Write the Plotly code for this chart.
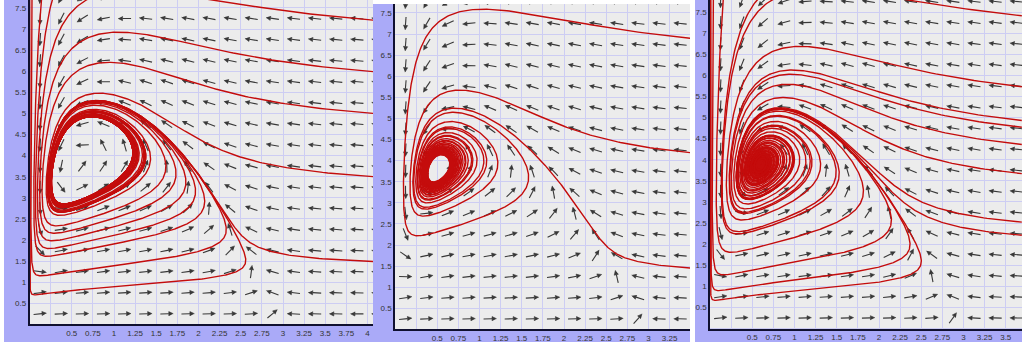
import numpy as np
import plotly.graph_objects as go

# ---------------- data ----------------
x_tick_vals = [0.0, 0.25, 0.5, 0.75, 1.0, 1.25, 1.5, 1.75, 2.0, 2.25, 2.5, 2.75, 3.0, 3.25, 3.5, 3.75, 4.0]
x_tick_text = ["", "", "0.5", "0.75", "1", "1.25", "1.5", "1.75", "2", "2.25", "2.5", "2.75", "3", "3.25", "3.5", "3.75", "4"]
y_tick_vals = [0.0, 0.5, 1.0, 1.5, 2.0, 2.5, 3.0, 3.5, 4.0, 4.5, 5.0, 5.5, 6.0, 6.5, 7.0, 7.5]
y_tick_text = ["", "0.5", "1", "1.5", "2", "2.5", "3", "3.5", "4", "4.5", "5", "5.5", "6", "6.5", "7", "7.5"]

# phase-portrait model: prey logistic + Holling II, predator Leslie-Gower type
prey_K = 2.95
pred_c = 0.05
panel_prey_a = [0.3554, 0.322, 0.322]  # predation rate per panel
panel_prey_b = [1.20, 0.95, 0.95]      # handling (saturation) per panel
panel_s = [0.105, 0.101, 0.125]        # predator time scale per panel
panel_xstar = [0.56, 0.50, 0.60]       # equilibrium prey level per panel
panel_T = [300.0, 280.0, 190.0]        # integration time per panel

# starting points of the red trajectories
p1_start_x = [4.07, 4.07, 4.07, 4.07, 4.07, 0.002, 0.03, 0.15, 0.30]
p1_start_y = [7.21, 5.99, 5.00, 3.50, 1.49, 7.90, 7.90, 7.90, 7.90]
p2_start_x = [3.53, 3.53, 3.53]
p2_start_y = [6.89, 4.18, 1.45]
p3_start_x = [3.69, 3.69, 3.69, 3.69, 3.69, 3.69, 3.69, 3.69, 0.002, 0.01, 0.04, 0.16, 0.61]
p3_start_y = [7.41, 5.73, 4.93, 4.77, 4.36, 3.67, 2.52, 2.21, 7.90, 7.90, 7.90, 7.90, 7.90]
panel_starts = [(p1_start_x, p1_start_y), (p2_start_x, p2_start_y), (p3_start_x, p3_start_y)]

# ---------------- layout geometry (pixels) ----------------
W, H = 1022, 349
SX, SY = 84.5, 42.2   # pixels per data unit
plots = [dict(x0=29.5, x1=373.0, yt=0.0, yb=324.4),
         dict(x0=395.0, x1=690.0, yt=4.0, yb=329.4),
         dict(x0=710.0, x1=1022.0, yt=0.0, yb=328.5)]
frames = [(4, 0, 373, 342), (373, 4, 690, 342), (695, 0, 1022, 342)]

LAV = "#aaaaf8"
BG = "#ececec"
GRID = "#cdcdf3"
RED = "#c40c0c"
ARROW = "#383838"


def field(x, y, s, h, a, b):
    dx = x * (1 - x / prey_K) - a * x * y / (1 + b * x)
    dy = s * y * (1 - h * y / (x + pred_c))
    return dx, dy


def integrate(x0, y0, prm, T, dt=0.04):
    n = int(T / dt)
    x = np.array(x0, float)
    y = np.array(y0, float)
    X = np.empty((n + 1, x.size))
    Y = np.empty((n + 1, x.size))
    X[0], Y[0] = x, y
    for i in range(n):
        k1x, k1y = field(x, y, *prm)
        k2x, k2y = field(x + dt / 2 * k1x, y + dt / 2 * k1y, *prm)
        k3x, k3y = field(x + dt / 2 * k2x, y + dt / 2 * k2y, *prm)
        k4x, k4y = field(x + dt * k3x, y + dt * k3y, *prm)
        x = x + dt / 6 * (k1x + 2 * k2x + 2 * k3x + k4x)
        y = y + dt / 6 * (k1y + 2 * k2y + 2 * k3y + k4y)
        x = np.maximum(x, 1e-12)
        X[i + 1], Y[i + 1] = x, y
    return X, Y


def decimate(xs, ys, tol=0.7):
    px = xs * SX
    py = ys * SY
    keep = [0]
    lx, ly = px[0], py[0]
    t2 = tol * tol
    for i in range(1, len(px)):
        if (px[i] - lx) ** 2 + (py[i] - ly) ** 2 >= t2:
            keep.append(i)
            lx, ly = px[i], py[i]
    if keep[-1] != len(px) - 1:
        keep.append(len(px) - 1)
    return xs[keep], ys[keep]


fig = go.Figure()
shapes = []

for (fx0, fy0, fx1, fy1) in frames:
    shapes.append(dict(type="rect", xref="paper", yref="paper", layer="below",
                       x0=fx0 / W, x1=fx1 / W, y0=(H - fy1) / H, y1=(H - fy0) / H,
                       line=dict(width=0), fillcolor=LAV))

L, HL, HW = 13.0, 4.5, 2.2

for k, p in enumerate(plots):
    xa = "x" if k == 0 else f"x{k + 1}"
    ya = "y" if k == 0 else f"y{k + 1}"
    xmax = (p["x1"] - p["x0"]) / SX
    ymax = (p["yb"] - p["yt"]) / SY
    s = panel_s[k]
    pa, pb = panel_prey_a[k], panel_prey_b[k]
    xs_ = panel_xstar[k]
    ystar = (1 - xs_ / prey_K) * (1 + pb * xs_) / pa
    h = (xs_ + pred_c) / ystar
    prm = (s, h, pa, pb)

    shapes.append(dict(type="rect", xref=f"{xa} domain", yref=f"{ya} domain", layer="below",
                       x0=0, x1=1, y0=0, y1=1, line=dict(width=0), fillcolor=BG))

    # direction field
    cx = np.arange(0.125, xmax + 0.2, 0.25)
    cy = np.arange(0.25, ymax + 0.3, 0.5)
    CX, CY = np.meshgrid(cx, cy)
    CX = CX.ravel()
    CY = CY.ravel()
    dx, dy = field(CX, CY, *prm)
    vx, vy = dx * SX, dy * SY
    nrm = np.hypot(vx, vy)
    nrm[nrm == 0] = 1
    ex, ey = vx / nrm, vy / nrm
    tx, ty = -L / 2 * ex, -L / 2 * ey
    hx, hy = L / 2 * ex, L / 2 * ey
    bx, by = hx - HL * ex, hy - HL * ey
    lx, ly = bx - HW * ey, by + HW * ex
    rx, ry = bx + HW * ey, by - HW * ex
    shaft_x, shaft_y, head_x, head_y = [], [], [], []
    for i in range(CX.size):
        shaft_x += [round(CX[i] + tx[i] / SX, 4), round(CX[i] + bx[i] / SX, 4), None]
        shaft_y += [round(CY[i] + ty[i] / SY, 4), round(CY[i] + by[i] / SY, 4), None]
        head_x += [round(CX[i] + hx[i] / SX, 4), round(CX[i] + lx[i] / SX, 4), round(CX[i] + rx[i] / SX, 4), None]
        head_y += [round(CY[i] + hy[i] / SY, 4), round(CY[i] + ly[i] / SY, 4), round(CY[i] + ry[i] / SY, 4), None]
    fig.add_trace(go.Scatter(x=shaft_x, y=shaft_y, mode="lines", xaxis=xa, yaxis=ya,
                             line=dict(color=ARROW, width=1.1), hoverinfo="skip", showlegend=False))
    fig.add_trace(go.Scatter(x=head_x, y=head_y, mode="lines", fill="toself", fillcolor=ARROW,
                             xaxis=xa, yaxis=ya, line=dict(color=ARROW, width=0.6),
                             hoverinfo="skip", showlegend=False))

    # trajectories
    sx0, sy0 = panel_starts[k]
    X, Y = integrate(sx0, sy0, prm, panel_T[k])
    tr_x, tr_y = [], []
    for j in range(X.shape[1]):
        a, b = decimate(X[:, j], Y[:, j])
        tr_x += [round(v, 4) for v in a] + [None]
        tr_y += [round(v, 4) for v in b] + [None]
    fig.add_trace(go.Scatter(x=tr_x, y=tr_y, mode="lines", xaxis=xa, yaxis=ya,
                             line=dict(color=RED, width=1.4), hoverinfo="skip", showlegend=False))

    axis_common = dict(showgrid=True, gridcolor=GRID, gridwidth=1, zeroline=False,
                       showline=True, linecolor="#101030", linewidth=1.5, ticks="",
                       tickfont=dict(family="Liberation Sans, Arial", size=8, color="#333333"),
                       fixedrange=True)
    fig.layout[("xaxis" if k == 0 else f"xaxis{k + 1}")] = dict(
        domain=[p["x0"] / W, p["x1"] / W], range=[0, xmax], anchor=ya,
        tickmode="array", tickvals=x_tick_vals, ticktext=x_tick_text, **axis_common)
    fig.layout[("yaxis" if k == 0 else f"yaxis{k + 1}")] = dict(
        domain=[(H - p["yb"]) / H, (H - p["yt"]) / H], range=[0, ymax], anchor=xa,
        tickmode="array", tickvals=y_tick_vals, ticktext=y_tick_text, **axis_common)

fig.update_layout(width=W, height=H, margin=dict(l=0, r=0, t=0, b=0),
                  paper_bgcolor="white", plot_bgcolor="rgba(0,0,0,0)",
                  shapes=shapes, showlegend=False)

fig.write_html("out.html", config={"displayModeBar": False},
               post_script="document.body.style.margin='0px';document.body.style.overflow='hidden';")
